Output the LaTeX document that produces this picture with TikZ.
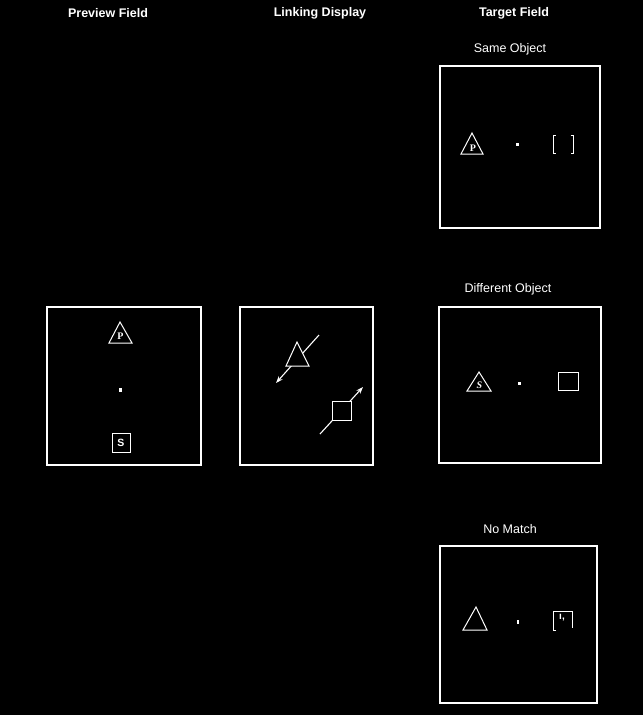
\documentclass[tikz,border=0pt]{standalone}
\usepackage{fontspec}
\setmainfont{Liberation Sans}
\newfontfamily\serifx{Liberation Serif}
\usetikzlibrary{arrows.meta}
\begin{document}
\begin{tikzpicture}[x=1pt,y=-1pt,
  panel/.style={draw=white,line width=1.8pt},
  shp/.style={draw=white,line width=1pt,fill=black,line join=miter},
  title/.style={text=white,font=\fontsize{12.5}{14}\selectfont\bfseries,inner sep=0pt},
  sub/.style={text=white,font=\fontsize{12.5}{14}\selectfont,inner sep=0pt},
  lett/.style={text=white,inner sep=0pt,font=\fontsize{10}{10}\selectfont\serifx\bfseries},
  fix/.style={fill=white},
  link/.style={draw=white,line width=1.1pt,-{Stealth[length=7pt,width=5pt]}}]
\useasboundingbox (0,0) rectangle (643,715);
\fill[black] (0,0) rectangle (643,715);
% titles
\node[title] (t1) at (108,13) {Preview Field};
\node[title] (t2) at (320,13) {Linking Display};
\node[title] (t3) at (514,13) {Target Field};
\node[sub] (s1) at (510,49) {Same Object};
\node[sub] (s2) at (508,289) {Different Object};
\node[sub] (s3) at (510,529) {No Match};
% panels
\draw[panel] (47,307) rectangle (201,465);
\draw[panel] (240,307) rectangle (373,465);
\draw[panel] (440,66) rectangle (600,228);
\draw[panel] (439,307) rectangle (601,463);
\draw[panel] (440,546) rectangle (597,703);
% preview field
\draw[shp] (120,322) -- (132,343) -- (109,343) -- cycle;
\node[lett] (pp) at (120.5,336.5) {P};
\fill[fix] (119,388) rectangle (122,392);
\draw[shp] (112,433) rectangle (130,452);
\node[text=white,inner sep=0pt,font=\fontsize{10.5}{10}\selectfont\bfseries] (ps) at (121,442.5) {S};
% linking display
\coordinate (a1) at (319,335);
\coordinate (a2) at (276,383);
\draw[link] (a1) -- (a2);
\draw[shp] (297,342) -- (309,366) -- (286,366) -- cycle;
\coordinate (b1) at (320,434);
\coordinate (b2) at (363,387);
\draw[link] (b1) -- (b2);
\draw[shp] (332,401) rectangle (351,420);
% same object
\draw[shp] (472,133) -- (483,154) -- (461,154) -- cycle;
\node[lett] (sp) at (473,148) {P};
\fill[fix] (516,142.5) rectangle (518.5,145.5);
\draw[draw=white,line width=1pt] (555.5,135) -- (553,135) -- (553,153) -- (555.5,153);
\draw[draw=white,line width=1pt] (570.5,135) -- (573,135) -- (573,153) -- (571,153);
% different object
\draw[shp] (479,372) -- (491,391) -- (467,391) -- cycle;
\node[lett,font=\fontsize{10}{10}\selectfont\serifx\bfseries\itshape] (ds) at (479.5,385) {S};
\fill[fix] (518,381.5) rectangle (520.5,384.5);
\draw[shp] (558,372) rectangle (578,390);
% no match
\draw[shp] (476,607) -- (487,630) -- (463,630) -- cycle;
\fill[fix] (516.5,620) rectangle (519,624);
\draw[draw=white,line width=1pt] (556,630) -- (553,630) -- (553,611.5) -- (572,611.5) -- (572,628);
\node[text=white,inner sep=0pt,font=\fontsize{10}{10}\selectfont\bfseries] (nm) at (562,618) {ı,};
\end{tikzpicture}
\end{document}
